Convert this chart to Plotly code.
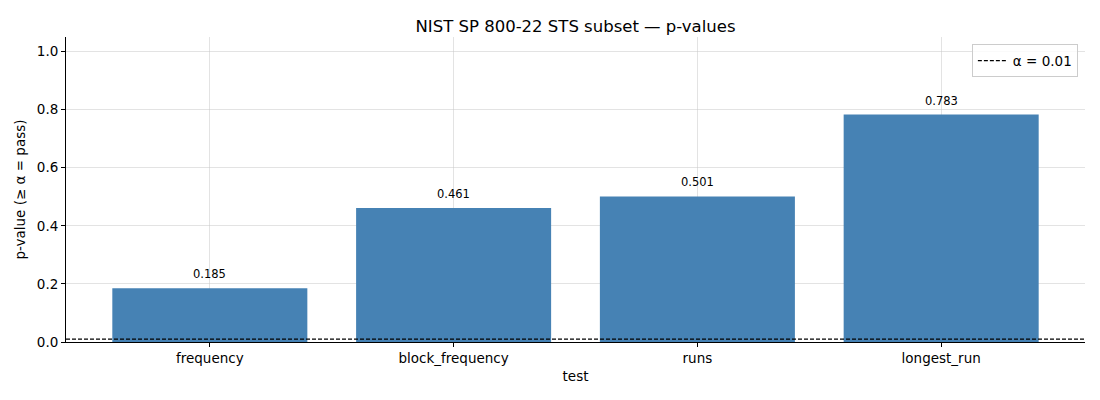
import plotly.graph_objects as go

tests = ["frequency", "block_frequency", "runs", "longest_run"]
pvalues = [0.185, 0.461, 0.501, 0.783]
alpha = 0.01
y_ticks = [0.0, 0.2, 0.4, 0.6, 0.8, 1.0]

FONT = "DejaVu Sans"

fig = go.Figure()
fig.add_trace(go.Bar(
    x=tests, y=pvalues, width=0.8,
    marker=dict(color="#4682b4", line=dict(width=0)),
    cliponaxis=False, showlegend=False, hoverinfo="x+y",
))
fig.add_trace(go.Scatter(
    x=[-0.59, 3.59], y=[alpha, alpha], mode="lines",
    line=dict(color="black", width=1.2, dash="4px,2px"),
    name=f"α = {alpha}", xaxis="x2",
))

for t, v in zip(tests, pvalues):
    fig.add_annotation(x=t, y=v, text=f"{v:.3f}", showarrow=False,
                       yanchor="bottom", yshift=5,
                       font=dict(family=FONT, size=11.5, color="#000"))

fig.update_layout(
    width=1100, height=400,
    margin=dict(l=58, r=23, t=29, b=66, autoexpand=False),
    paper_bgcolor="white", plot_bgcolor="white",
    font=dict(family=FONT, size=13.5, color="#000"),
    title=dict(text="NIST SP 800-22 STS subset — p-values", x=0.5, xanchor="center",
               xref="paper", y=0.97, yanchor="top", font=dict(size=16.5)),
    bargap=0.2,
    xaxis=dict(range=[-0.59, 3.59], showline=True, linecolor="black", linewidth=1,
               ticks="outside", ticklen=4, tickcolor="black",
               showgrid=True, gridcolor="rgba(200,200,200,0.5)", gridwidth=1,
               layer="above traces", automargin=False,
               title=dict(text="test", font=dict(size=13.5), standoff=6)),
    xaxis2=dict(range=[-0.59, 3.59], overlaying="x", visible=False),
    yaxis=dict(range=[0, 1.05], tickvals=y_ticks, tickformat=".1f",
               showline=True, linecolor="black", linewidth=1,
               ticks="outside", ticklen=4, tickcolor="black",
               showgrid=True, gridcolor="rgba(200,200,200,0.5)", gridwidth=1,
               zeroline=False, layer="above traces", automargin=False,
               title=dict(text="p-value (≥ α = pass)", font=dict(size=13.5), standoff=8)),
    legend=dict(x=0.993, y=0.976, xanchor="right", yanchor="top",
                bgcolor="rgba(255,255,255,0.8)", bordercolor="#ccc", borderwidth=1,
                font=dict(size=13.5)),
)

fig.write_html("out.html")
